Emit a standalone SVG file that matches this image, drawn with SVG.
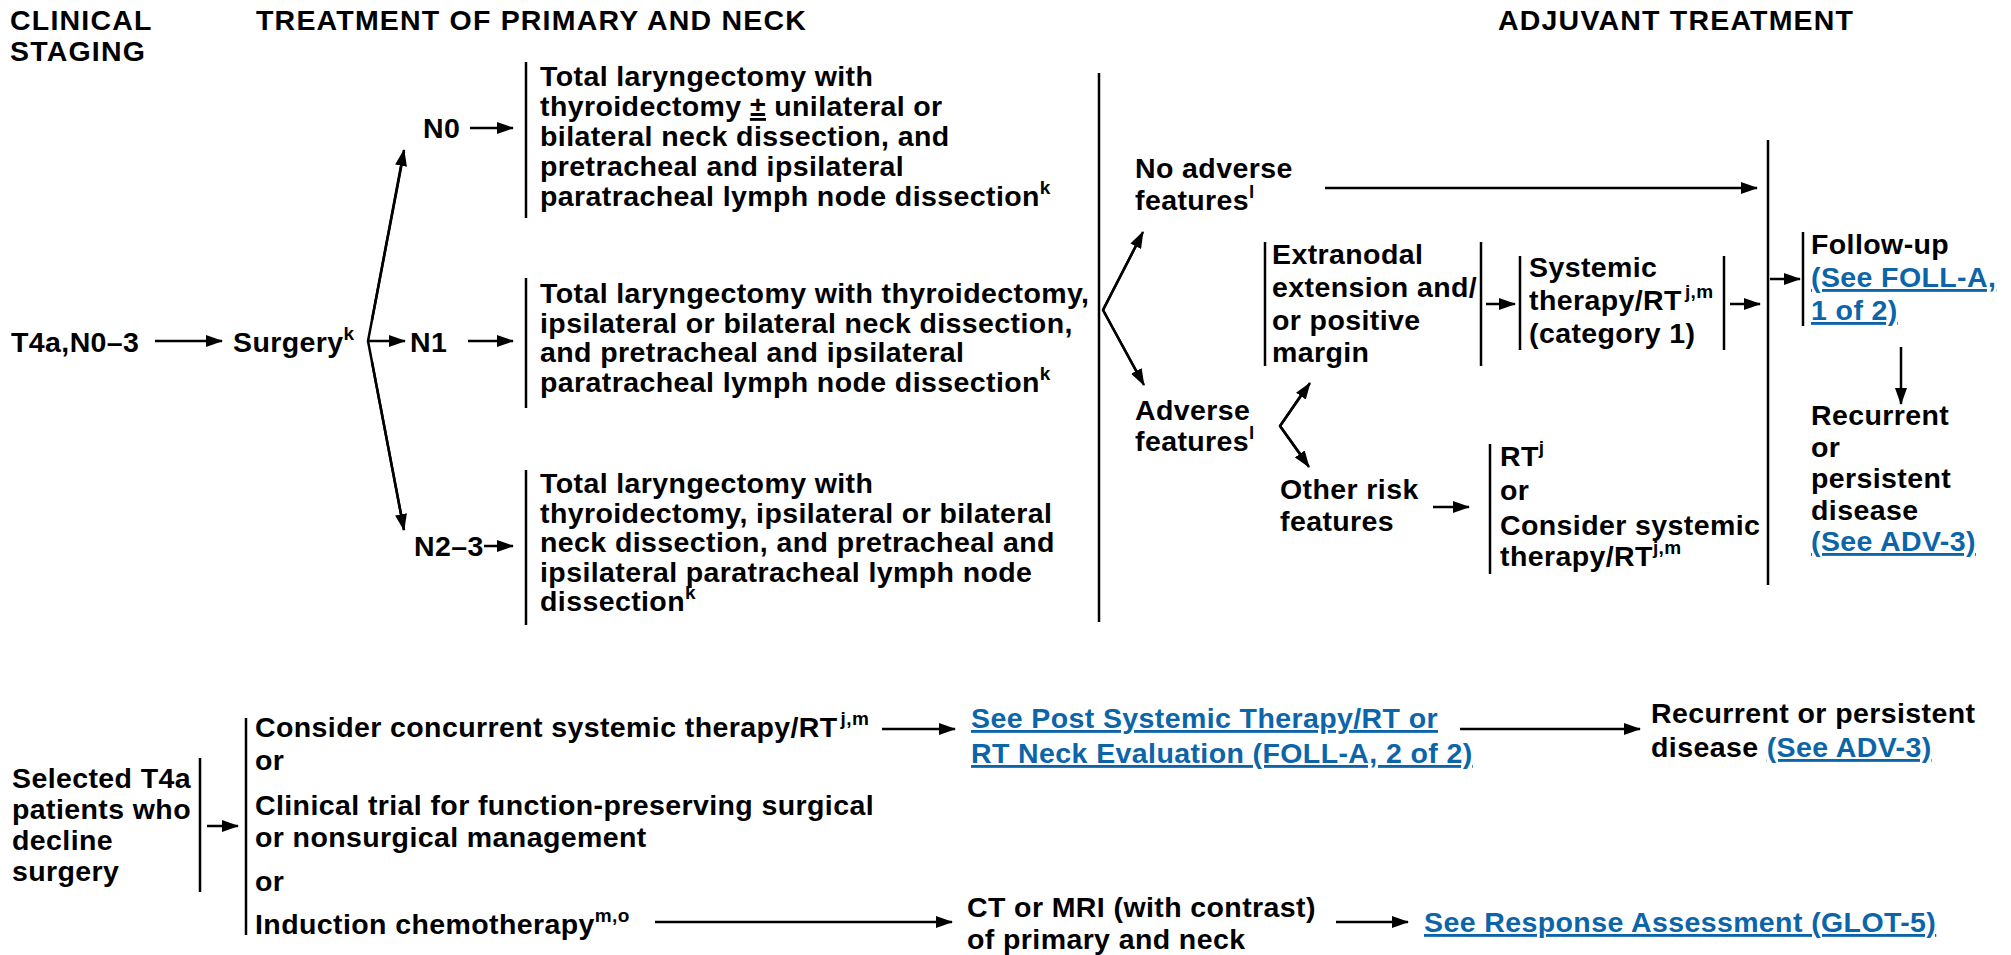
<svg xmlns="http://www.w3.org/2000/svg" width="2011" height="955" viewBox="0 0 2011 955">
<defs>
  <marker id="ah" markerUnits="userSpaceOnUse" markerWidth="17" markerHeight="12" refX="16" refY="6" orient="auto">
    <path d="M0,0 L17,6 L0,12 z" fill="#000"/>
  </marker>
  <style>
    text{font-family:"Liberation Sans",Arial,Helvetica,sans-serif;font-weight:bold;fill:#000}
    .h{font-size:28.5px;letter-spacing:1.2px}
    .t{font-size:28.5px;letter-spacing:0.4px}
    .s{font-size:19px}
    .u{text-decoration:underline}
    .lk{fill:#0b65a8;text-decoration:underline}
    .ln{stroke:#000;stroke-width:2.5;fill:none}
    .ar{stroke:#000;stroke-width:2.5;fill:none;marker-end:url(#ah)}
  </style>
</defs>
<rect width="2011" height="955" fill="#fff"/>

<!-- column headings -->
<g id="headings">
  <text class="h" x="10" y="30">CLINICAL</text>
  <text class="h" x="10" y="61">STAGING</text>
  <text class="h" x="256" y="30">TREATMENT OF PRIMARY AND NECK</text>
  <text class="h" x="1498" y="30">ADJUVANT TREATMENT</text>
</g>

<!-- surgical pathway -->
<g id="stage"><text class="t" x="11" y="352">T4a,N0–3</text></g>
<g id="surgery"><text class="t" x="233" y="352">Surgery<tspan class="s" dy="-12">k</tspan></text></g>
<g id="n0"><text class="t" x="423" y="138">N0</text></g>
<g id="n1"><text class="t" x="410" y="352">N1</text></g>
<g id="n23"><text class="t" x="414" y="556">N2–3</text></g>

<g id="box-n0">
  <line class="ln" x1="526" y1="62" x2="526" y2="218"/>
  <text class="t" x="540" y="86">Total laryngectomy with</text>
  <text class="t" x="540" y="116">thyroidectomy <tspan class="u">±</tspan> unilateral or</text>
  <text class="t" x="540" y="146">bilateral neck dissection, and</text>
  <text class="t" x="540" y="176">pretracheal and ipsilateral</text>
  <text class="t" x="540" y="206">paratracheal lymph node dissection<tspan class="s" dy="-12">k</tspan></text>
</g>
<g id="box-n1">
  <line class="ln" x1="526" y1="278" x2="526" y2="408"/>
  <text class="t" x="540" y="303">Total laryngectomy with thyroidectomy,</text>
  <text class="t" x="540" y="332.5">ipsilateral or bilateral neck dissection,</text>
  <text class="t" x="540" y="362">and pretracheal and ipsilateral</text>
  <text class="t" x="540" y="391.5">paratracheal lymph node dissection<tspan class="s" dy="-12">k</tspan></text>
</g>
<g id="box-n23">
  <line class="ln" x1="526" y1="470" x2="526" y2="625"/>
  <text class="t" x="540" y="493">Total laryngectomy with</text>
  <text class="t" x="540" y="522.5">thyroidectomy, ipsilateral or bilateral</text>
  <text class="t" x="540" y="552">neck dissection, and pretracheal and</text>
  <text class="t" x="540" y="581.5">ipsilateral paratracheal lymph node</text>
  <text class="t" x="540" y="611">dissection<tspan class="s" dy="-12">k</tspan></text>
</g>

<!-- adjuvant pathway -->
<g id="no-adverse">
  <text class="t" x="1135" y="178">No adverse</text>
  <text class="t" x="1135" y="210">features<tspan class="s" dy="-12">l</tspan></text>
</g>
<g id="adverse">
  <text class="t" x="1135" y="420">Adverse</text>
  <text class="t" x="1135" y="451">features<tspan class="s" dy="-12">l</tspan></text>
</g>
<g id="extranodal">
  <line class="ln" x1="1265" y1="242" x2="1265" y2="366"/>
  <line class="ln" x1="1481" y1="242" x2="1481" y2="366"/>
  <text class="t" x="1272" y="264">Extranodal</text>
  <text class="t" x="1272" y="297">extension and/</text>
  <text class="t" x="1272" y="330">or positive</text>
  <text class="t" x="1272" y="362">margin</text>
</g>
<g id="systemic">
  <line class="ln" x1="1520" y1="256" x2="1520" y2="350"/>
  <line class="ln" x1="1724" y1="256" x2="1724" y2="350"/>
  <text class="t" x="1529" y="277">Systemic</text>
  <text class="t" x="1529" y="310">therapy/RT<tspan class="s" dx="3" dy="-12">j,m</tspan></text>
  <text class="t" x="1529" y="343">(category 1)</text>
</g>
<g id="other-risk">
  <text class="t" x="1280" y="499">Other risk</text>
  <text class="t" x="1280" y="531">features</text>
</g>
<g id="rt-option">
  <line class="ln" x1="1490" y1="444" x2="1490" y2="574"/>
  <text class="t" x="1500" y="466">RT<tspan class="s" dy="-12">j</tspan></text>
  <text class="t" x="1500" y="500">or</text>
  <text class="t" x="1500" y="535">Consider systemic</text>
  <text class="t" x="1500" y="566">therapy/RT<tspan class="s" dy="-12">j,m</tspan></text>
</g>
<g id="follow-up">
  <line class="ln" x1="1803" y1="232" x2="1803" y2="326"/>
  <text class="t" x="1811" y="254">Follow-up</text>
  <text class="t lk" x="1811" y="287">(See FOLL-A,</text>
  <text class="t lk" x="1811" y="320">1 of 2)</text>
</g>
<g id="recurrent">
  <text class="t" x="1811" y="425">Recurrent</text>
  <text class="t" x="1811" y="456.5">or</text>
  <text class="t" x="1811" y="488">persistent</text>
  <text class="t" x="1811" y="519.5">disease</text>
  <text class="t lk" x="1811" y="551">(See ADV-3)</text>
</g>

<!-- non-surgical pathway -->
<g id="decline">
  <text class="t" x="12" y="788">Selected T4a</text>
  <text class="t" x="12" y="819">patients who</text>
  <text class="t" x="12" y="850">decline</text>
  <text class="t" x="12" y="881">surgery</text>
  <line class="ln" x1="200" y1="758" x2="200" y2="892"/>
</g>
<g id="options">
  <line class="ln" x1="246" y1="718" x2="246" y2="935"/>
  <text class="t" x="255" y="737">Consider concurrent systemic therapy/RT<tspan class="s" dx="3" dy="-12">j,m</tspan></text>
  <text class="t" x="255" y="770">or</text>
  <text class="t" x="255" y="815">Clinical trial for function-preserving surgical</text>
  <text class="t" x="255" y="847">or nonsurgical management</text>
  <text class="t" x="255" y="891">or</text>
  <text class="t" x="255" y="934">Induction chemotherapy<tspan class="s" dy="-12">m,o</tspan></text>
</g>
<g id="post-eval">
  <text class="t lk" x="971" y="728">See Post Systemic Therapy/RT or </text>
  <text class="t lk" x="971" y="763">RT Neck Evaluation (FOLL-A, 2 of 2)</text>
</g>
<g id="recurrent-2">
  <text class="t" x="1651" y="723">Recurrent or persistent</text>
  <text class="t" x="1651" y="757">disease <tspan class="lk">(See ADV-3)</tspan></text>
</g>
<g id="imaging">
  <text class="t" x="967" y="917">CT or MRI (with contrast)</text>
  <text class="t" x="967" y="949">of primary and neck</text>
</g>
<g id="response"><text class="t lk" x="1424" y="932">See Response Assessment (GLOT-5)</text></g>

<!-- connectors -->
<g id="connectors">
  <line class="ar" x1="155" y1="341" x2="222" y2="341"/>
  <polyline class="ln" points="404,152 368,341 404,530"/>
  <line class="ar" x1="372" y1="320" x2="404" y2="150"/>
  <line class="ar" x1="372" y1="362" x2="404" y2="530"/>
  <line class="ar" x1="368" y1="341" x2="405" y2="341"/>
  <line class="ar" x1="470" y1="128" x2="513" y2="128"/>
  <line class="ar" x1="468" y1="341" x2="513" y2="341"/>
  <line class="ar" x1="484" y1="546" x2="513" y2="546"/>

  <line class="ln" x1="1099" y1="73" x2="1099" y2="622"/>
  <polyline class="ln" points="1140,238 1103,310 1141,380"/>
  <line class="ar" x1="1103" y1="310" x2="1143" y2="232"/>
  <line class="ar" x1="1103" y1="310" x2="1144" y2="385"/>
  <line class="ar" x1="1325" y1="188" x2="1757" y2="188"/>
  <polyline class="ln" points="1306,388 1280,426 1306,462"/>
  <line class="ar" x1="1280" y1="426" x2="1310" y2="383"/>
  <line class="ar" x1="1280" y1="426" x2="1309" y2="467"/>
  <line class="ar" x1="1486" y1="304" x2="1515" y2="304"/>
  <line class="ar" x1="1730" y1="304" x2="1760" y2="304"/>
  <line class="ar" x1="1433" y1="507" x2="1469" y2="507"/>
  <line class="ln" x1="1768" y1="140" x2="1768" y2="585"/>
  <line class="ar" x1="1770" y1="279" x2="1800" y2="279"/>
  <line class="ar" x1="1901" y1="347" x2="1901" y2="404"/>

  <line class="ar" x1="207" y1="826" x2="238" y2="826"/>
  <line class="ar" x1="882" y1="729" x2="955" y2="729"/>
  <line class="ar" x1="1460" y1="729" x2="1640" y2="729"/>
  <line class="ar" x1="655" y1="922" x2="952" y2="922"/>
  <line class="ar" x1="1336" y1="922" x2="1408" y2="922"/>
</g>
</svg>
